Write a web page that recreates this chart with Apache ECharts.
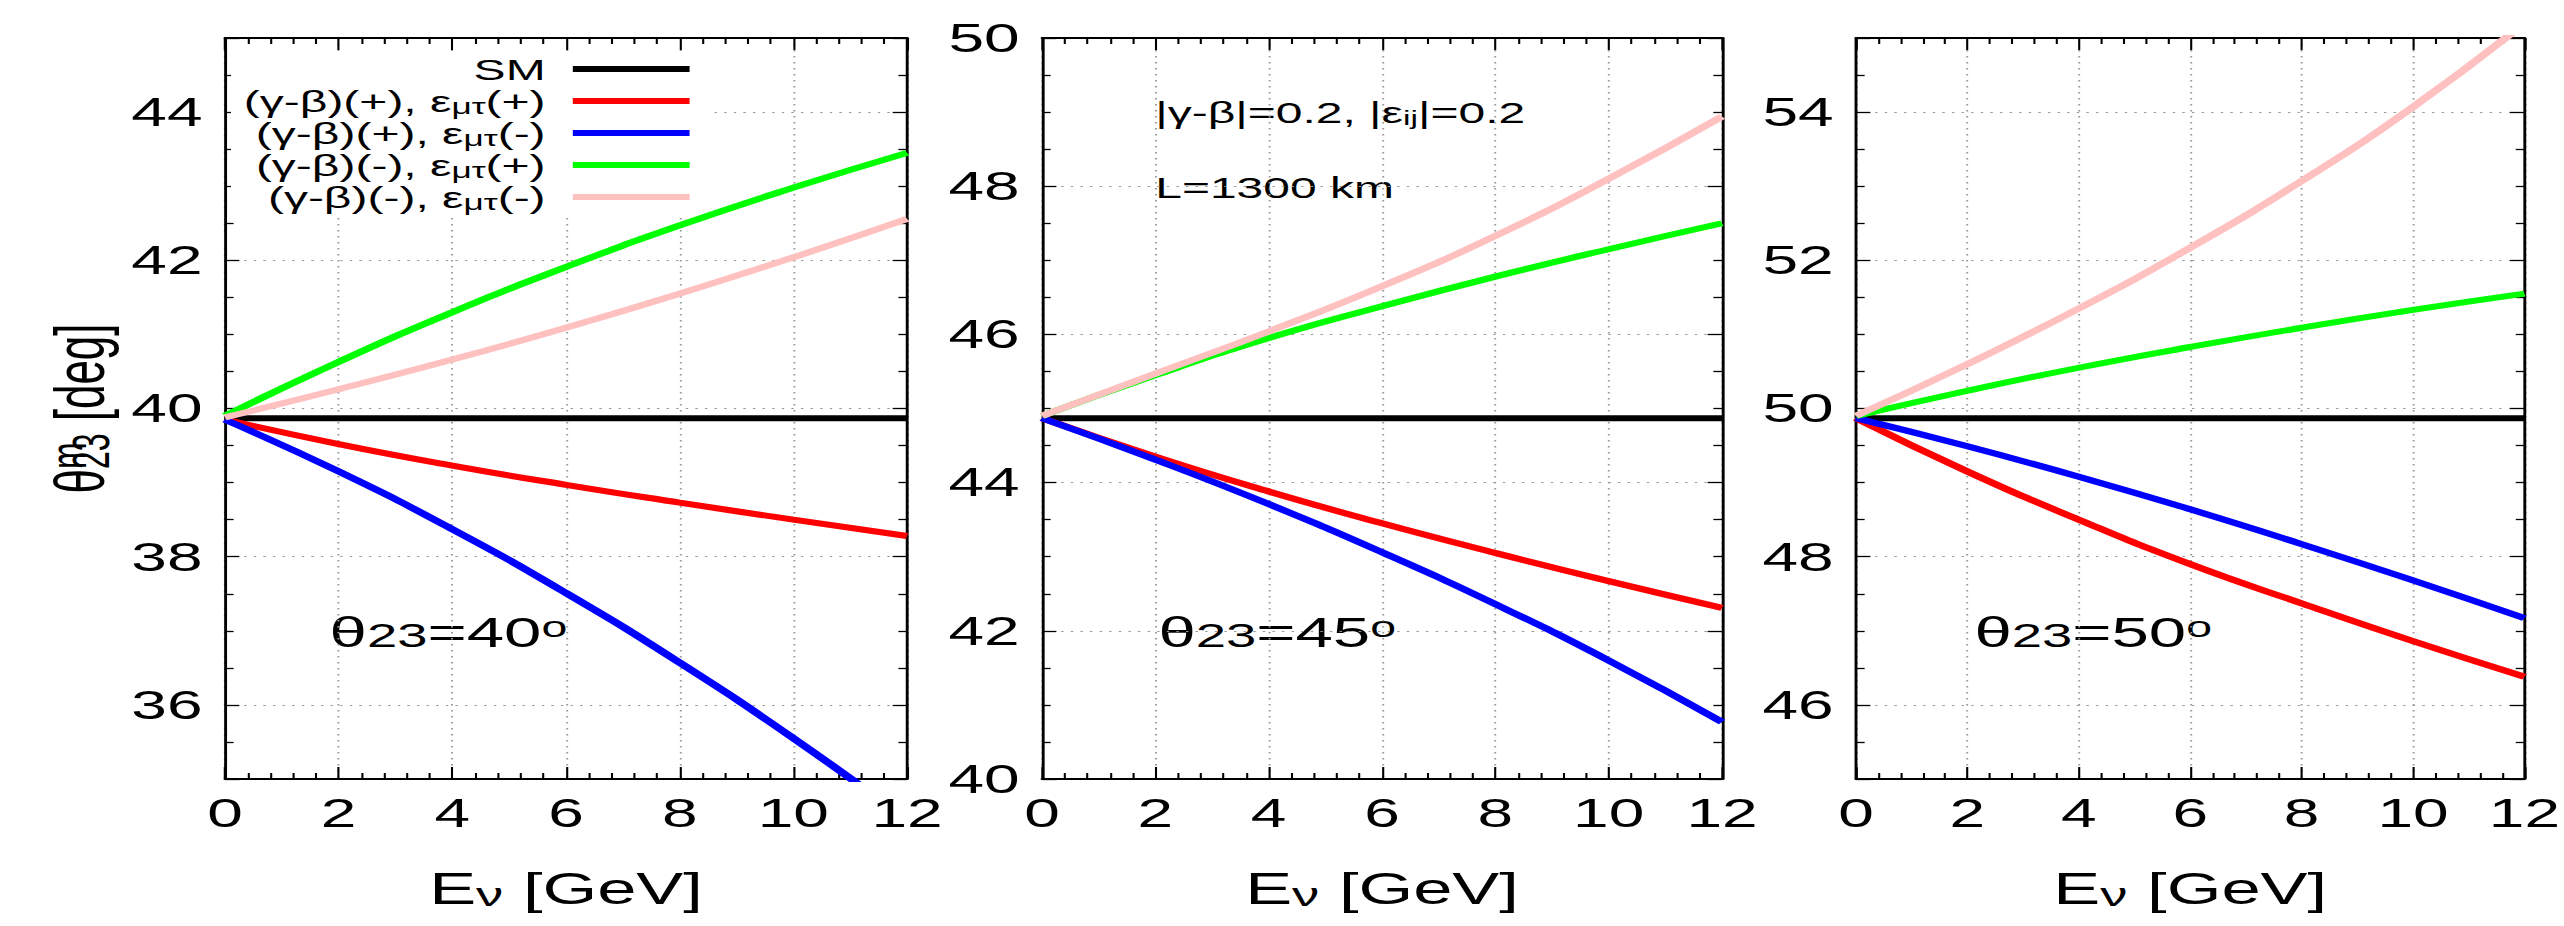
<!DOCTYPE html>
<html>
<head>
<meta charset="utf-8">
<script src="https://cdn.jsdelivr.net/npm/echarts@6/dist/echarts.min.js"></script>
<style>
html, body { margin: 0; padding: 0; background: #fff; overflow: hidden; }
/* the original figure is stretched horizontally, so the chart is drawn narrow and scaled */
#main { width: 1603px; height: 926px; transform: scaleX(1.6); transform-origin: 0 0; }
</style>
</head>
<body>
<div id="main"></div>
<script>
var energy = [0, 2, 4, 6, 8, 10, 12];

var curveNames = ['SM', '(γ-β)(+), ε_μτ(+)', '(γ-β)(+), ε_μτ(-)', '(γ-β)(-), ε_μτ(+)', '(γ-β)(-), ε_μτ(-)'];
var curveColors = ['#000000', '#ff0000', '#0000ff', '#00ff00', '#ffc0c0'];

// theta23 = 40
var sm40 = [39.87, 39.87, 39.87, 39.87, 39.87, 39.87, 39.87];
var pp40 = [39.85, 39.52, 39.23, 38.97, 38.73, 38.50, 38.28];
var pm40 = [39.85, 39.15, 38.37, 37.51, 36.57, 35.55, 34.45];
var mp40 = [39.90, 40.63, 41.30, 41.91, 42.47, 42.98, 43.45];
var mm40 = [39.88, 40.26, 40.66, 41.09, 41.55, 42.04, 42.56];

// theta23 = 45
var sm45 = [44.87, 44.87, 44.87, 44.87, 44.87, 44.87, 44.87];
var pp45 = [44.87, 44.35, 43.88, 43.45, 43.05, 42.67, 42.31];
var pm45 = [44.87, 44.31, 43.71, 43.06, 42.36, 41.60, 40.77];
var mp45 = [44.90, 45.45, 45.95, 46.38, 46.78, 47.15, 47.50];
var mm45 = [44.90, 45.47, 46.04, 46.65, 47.33, 48.10, 48.94];

// theta23 = 50
var sm50 = [49.87, 49.87, 49.87, 49.87, 49.87, 49.87, 49.87];
var pp50 = [49.87, 49.15, 48.50, 47.90, 47.37, 46.86, 46.38];
var pm50 = [49.87, 49.49, 49.08, 48.64, 48.17, 47.68, 47.17];
var mp50 = [49.90, 50.24, 50.55, 50.83, 51.09, 51.33, 51.55];
var mm50 = [49.90, 50.60, 51.35, 52.17, 53.07, 54.07, 55.20];

var yRanges = [[35, 45], [40, 50], [45, 55]];
var panelData = [
    [sm40, pp40, pm40, mp40, mm40],
    [sm45, pp45, pm45, mp45, mm45],
    [sm50, pp50, pm50, mp50, mm50]
];
var panelLabels = ['θ{sub|23}=40{sup|o}', 'θ{sub|23}=45{sup|o}', 'θ{sub|23}=50{sup|o}'];

var FONT = '"Liberation Sans", Arial, Helvetica, sans-serif';
var gridLeft = [140.6, 651.25, 1160];
var gridWidth = [426.3, 425, 426.9];
var labelX = [206, 724, 1234];

var chart = echarts.init(document.getElementById('main'), null, {renderer: 'svg'});

var frameLine = {show: true, onZero: false, lineStyle: {color: '#000', width: 1.8}};
var dotted = {show: true, lineStyle: {color: '#999', width: 1.2, type: [1.5, 4.5]}};

var grids = [], xAxes = [], yAxes = [], series = [], graphics = [];

for (var i = 0; i < 3; i++) {
    grids.push({left: gridLeft[i], width: gridWidth[i], top: 38, height: 741});

    var xTick = {show: true, inside: true, length: 12, lineStyle: {color: '#000', width: 1.3}};
    var xMinor = {show: true, splitNumber: 5, length: 6, lineStyle: {color: '#000', width: 1.3}};
    xAxes.push({
        gridIndex: i, type: 'value', min: 0, max: 12, interval: 2, position: 'bottom',
        axisLine: frameLine, axisTick: xTick, minorTick: xMinor, splitLine: dotted,
        axisLabel: {fontSize: 40, fontFamily: FONT, color: '#000', margin: 14},
        name: 'E{sub|ν} [GeV]', nameLocation: 'middle', nameGap: 88,
        nameTextStyle: {fontSize: 44, lineHeight: 44, fontFamily: FONT, color: '#000',
            rich: {sub: {fontSize: 34, lineHeight: 12, verticalAlign: 'bottom', fontFamily: FONT, color: '#000'}}}
    });
    xAxes.push({
        gridIndex: i, type: 'value', min: 0, max: 12, interval: 2, position: 'top',
        axisLine: frameLine, axisTick: xTick, minorTick: xMinor,
        axisLabel: {show: false}, splitLine: {show: false}
    });

    var yTick = {show: true, inside: true, length: 9, lineStyle: {color: '#000', width: 1.3}};
    var yMinor = {show: true, splitNumber: 4, length: 5.4, lineStyle: {color: '#000', width: 1.3}};
    var yMain = {
        gridIndex: i, type: 'value', min: yRanges[i][0], max: yRanges[i][1], position: 'left',
        axisLine: frameLine, axisTick: yTick, minorTick: yMinor, splitLine: dotted,
        axisLabel: {fontSize: 40, fontFamily: FONT, color: '#000', margin: 14,
            showMinLabel: i === 1, showMaxLabel: i === 1}
    };
    if (i === 0) {
        // superscript m stacked over subscript 23
        yMain.name = '{t|θ}{m|m}{sub|23}{t| [deg]}';
        yMain.nameLocation = 'middle';
        yMain.nameRotate = 90;
        yMain.nameGap = 68;
        yMain.nameTextStyle = {fontSize: 44, lineHeight: 46, fontFamily: FONT, color: '#000',
            rich: {
                t: {fontSize: 44, lineHeight: 46, align: 'left', fontFamily: FONT, color: '#000'},
                m: {fontSize: 32, lineHeight: 24, verticalAlign: 'top', width: 0, align: 'left', fontFamily: FONT, color: '#000'},
                sub: {fontSize: 32, lineHeight: 14, verticalAlign: 'bottom', align: 'left', fontFamily: FONT, color: '#000'}
            }};
    }
    yAxes.push(yMain);
    yAxes.push({
        gridIndex: i, type: 'value', min: yRanges[i][0], max: yRanges[i][1], position: 'right',
        axisLine: frameLine, axisTick: yTick, minorTick: yMinor,
        axisLabel: {show: false}, splitLine: {show: false}
    });

    for (var k = 0; k < 5; k++) {
        var vals = panelData[i][k];
        series.push({
            name: curveNames[k], type: 'line', xAxisIndex: i * 2, yAxisIndex: i * 2,
            data: energy.map(function (e, j) { return [e, vals[j]]; }),
            smooth: true, symbol: 'none', clip: true, silent: true,
            color: curveColors[k],
            lineStyle: {width: 6, color: curveColors[k]}
        });
    }

    graphics.push({
        type: 'text', x: labelX[i], y: 632, silent: true,
        style: {
            text: panelLabels[i], fontSize: 42, lineHeight: 40, fontFamily: FONT, fill: '#000',
            align: 'left', verticalAlign: 'middle',
            rich: {
                sub: {fontSize: 34, lineHeight: 10, verticalAlign: 'bottom', fontFamily: FONT, fill: '#000'},
                sup: {fontSize: 29, lineHeight: 20, verticalAlign: 'top', fontFamily: FONT, fill: '#000'}
            }
        }
    });
}

graphics.push({
    type: 'text', x: 722, y: 113, silent: true,
    style: {
        text: '|γ-β|=0.2, |ε{sub|ij}|=0.2', fontSize: 30, lineHeight: 30, fontFamily: FONT, fill: '#000',
        align: 'left', verticalAlign: 'middle',
        rich: {sub: {fontSize: 21, lineHeight: 8, verticalAlign: 'bottom', fontFamily: FONT, fill: '#000'}}
    }
});
graphics.push({
    type: 'text', x: 722, y: 188, silent: true,
    style: {text: 'L=1300 km', fontSize: 30, fontFamily: FONT, fill: '#000', align: 'left', verticalAlign: 'middle'}
});

chart.setOption({
    animation: false,
    backgroundColor: '#fff',
    grid: grids,
    xAxis: xAxes,
    yAxis: yAxes,
    legend: {
        data: curveNames,
        orient: 'vertical',
        align: 'right',
        right: 1160,
        top: 51,
        padding: [2, 12, 2, 8],
        itemGap: 0,
        itemWidth: 73,
        itemHeight: 6,
        icon: 'rect',
        selectedMode: false,
        backgroundColor: '#fff',
        itemStyle: {borderWidth: 0},
        formatter: function (name) { return name.replace('_μτ', '{sub|μτ}'); },
        textStyle: {
            fontSize: 30, lineHeight: 32, fontFamily: FONT, color: '#000', padding: [0, 12, 0, 0],
            rich: {sub: {fontSize: 22, lineHeight: 8, verticalAlign: 'bottom', fontFamily: FONT, color: '#000'}}
        },
        z: 1
    },
    graphic: graphics,
    series: series
});
</script>
</body>
</html>
